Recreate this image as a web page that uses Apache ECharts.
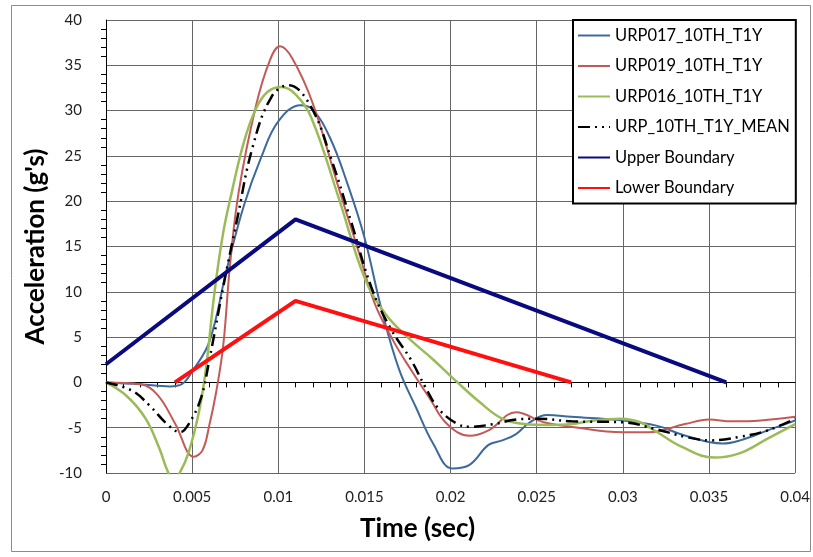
<!DOCTYPE html>
<html>
<head>
<meta charset="utf-8">
<script src="https://cdn.jsdelivr.net/npm/echarts@6/dist/echarts.min.js"></script>
<style>
  html, body { margin: 0; padding: 0; background: #fff; }
  #echarts { width: 813px; height: 557px; }
</style>
</head>
<body>
<div id="echarts"></div>
<script>
// 时间(秒)与加速度(g)
var t017 = [0, 0.002, 0.0037, 0.0044, 0.005, 0.006, 0.007, 0.008, 0.009, 0.010, 0.0113, 0.012, 0.013, 0.014, 0.015, 0.016, 0.017, 0.018, 0.019, 0.0201, 0.0211, 0.0222, 0.023, 0.0238, 0.0246, 0.0256, 0.027, 0.030, 0.032, 0.0335, 0.0358, 0.0368, 0.0384, 0.04];
var y017 = [0, -0.2, -0.45, -0.2, 1.2, 4.5, 12.4, 19.5, 24.8, 28.8, 30.6, 30.1, 27, 22, 16, 8, 1.5, -2.8, -6.8, -9.5, -9.1, -6.9, -6.4, -5.7, -4.4, -3.6, -3.8, -4.2, -4.8, -5.8, -6.75, -6.4, -5.3, -4.2];

var t019 = [0, 0.002, 0.003, 0.004, 0.0051, 0.0056, 0.006, 0.0064, 0.0068, 0.0072, 0.0077, 0.0087, 0.0095, 0.0101, 0.0108, 0.012, 0.0135, 0.0147, 0.0156, 0.0167, 0.0177, 0.0188, 0.0198, 0.0211, 0.0222, 0.0238, 0.0254, 0.027, 0.030, 0.0315, 0.0336, 0.035, 0.0363, 0.038, 0.04];
var y019 = [0, -0.2, -1.4, -4.5, -8.2, -7.5, -4.7, -1, 4, 13, 21, 30.5, 35.5, 37.1, 35.8, 30.8, 21.5, 14.2, 8.7, 4.5, 1.4, -1.8, -4.6, -5.9, -5.3, -3.3, -4.4, -4.9, -5.5, -5.5, -4.6, -4.1, -4.3, -4.2, -3.8];

var t016 = [0, 0.0012, 0.0023, 0.0031, 0.0036, 0.0039, 0.0043, 0.0048, 0.0054, 0.0058, 0.0063, 0.0068, 0.0073, 0.008, 0.0087, 0.0094, 0.0102, 0.011, 0.0119, 0.0135, 0.015, 0.0162, 0.0175, 0.019, 0.0204, 0.0217, 0.023, 0.0243, 0.0257, 0.027, 0.0283, 0.0299, 0.031, 0.032, 0.0334, 0.0353, 0.0368, 0.0384, 0.04];
var y016 = [0, -1.5, -4, -7.3, -9.9, -10.6, -9.9, -7.7, -3.2, 1.5, 10, 16.5, 21, 26.5, 30.2, 32.1, 32.6, 31.8, 29.3, 20.4, 11.6, 7.6, 5, 2.5, 0, -2.2, -4, -4.6, -4.7, -4.6, -4.2, -4, -4.4, -5.5, -7.1, -8.3, -7.8, -6.2, -4.6];

var tMean = [0, 0.0015, 0.0025, 0.0036, 0.0043, 0.0048, 0.0055, 0.006, 0.0068, 0.0076, 0.0085, 0.0096, 0.0106, 0.0119, 0.0131, 0.0142, 0.0154, 0.0165, 0.0177, 0.0185, 0.0193, 0.0204, 0.0211, 0.0225, 0.0238, 0.025, 0.027, 0.030, 0.0318, 0.0336, 0.0351, 0.0368, 0.0384, 0.04];
var yMean = [0, -0.9, -2.5, -4.7, -5.5, -4.6, -1.8, 2.5, 10.5, 17.9, 25.9, 31.5, 32.8, 30.4, 24.5, 17.9, 10.5, 6, 2.5, -0.4, -2.9, -4.6, -4.9, -4.6, -4.1, -4, -4.3, -4.4, -5.1, -6, -6.4, -6, -5.3, -4];

// 上下边界
var tUpper = [0, 0.011, 0.036];
var yUpper = [2, 18, 0];
var tLower = [0.004, 0.011, 0.027];
var yLower = [0, 9, 0];

var names = ['URP017_10TH_T1Y', 'URP019_10TH_T1Y', 'URP016_10TH_T1Y', 'URP_10TH_T1Y_MEAN', 'Upper Boundary', 'Lower Boundary'];

function pairs(t, y) {
  var out = [];
  for (var i = 0; i < t.length; i++) {
    out.push([t[i], y[i]]);
  }
  return out;
}

var font = 'Lato, "Open Sans", sans-serif';
var chart = echarts.init(document.getElementById('echarts'));

chart.setOption({
  animation: false,
  graphic: [{
    type: 'rect',
    shape: { x: 11.5, y: 5.5, width: 799, height: 546 },
    style: { fill: 'none', stroke: '#8c8c8c', lineWidth: 1 },
    z: -1
  }],
  grid: { left: 106, right: 14, top: 20, bottom: 84 },
  legend: {
    orient: 'vertical',
    left: 573,
    top: 20,
    padding: [7, 6, 7, 4],
    itemGap: 13.5,
    itemWidth: 32,
    itemHeight: 14,
    borderColor: '#000',
    borderWidth: 2,
    backgroundColor: '#fff',
    itemStyle: { opacity: 0 },
    data: names,
    textStyle: { fontFamily: font, fontSize: 16.5, color: '#000' }
  },
  xAxis: {
    type: 'value',
    min: 0,
    max: 0.04,
    interval: 0.005,
    name: 'Time (sec)',
    nameLocation: 'center',
    nameGap: 43,
    nameTextStyle: { fontFamily: font, fontSize: 26, fontWeight: 'bold', color: '#000', padding: [0, 66, 0, 0] },
    axisLine: { lineStyle: { color: '#000', width: 1 } },
    axisTick: { show: false },
    minorTick: { show: true, splitNumber: 5, length: 5, inside: true, lineStyle: { color: '#000' } },
    splitLine: { show: true, lineStyle: { color: '#666', width: 1 } },
    axisLabel: { fontFamily: font, fontSize: 15, color: '#222', margin: 17 }
  },
  yAxis: {
    type: 'value',
    min: -10,
    max: 40,
    interval: 5,
    name: 'Acceleration (g\'s)',
    nameLocation: 'center',
    nameGap: 46,
    nameTextStyle: { fontFamily: font, fontSize: 26, fontWeight: 'bold', color: '#000' },
    axisLine: { show: true, lineStyle: { color: '#000', width: 1 } },
    axisTick: { show: false },
    minorTick: { show: true, splitNumber: 5, length: 5, inside: true, lineStyle: { color: '#000' } },
    splitLine: { show: true, lineStyle: { color: '#666', width: 1 } },
    axisLabel: { fontFamily: font, fontSize: 15, color: '#222', margin: 24 }
  },
  series: [
    {
      name: names[0], type: 'line', symbol: 'none', smooth: 0.4,
      lineStyle: { color: '#3d6a9c', width: 2 }, itemStyle: { color: '#3d6a9c' },
      data: pairs(t017, y017)
    },
    {
      name: names[1], type: 'line', symbol: 'none', smooth: 0.4,
      lineStyle: { color: '#c45a58', width: 2 }, itemStyle: { color: '#c45a58' },
      data: pairs(t019, y019)
    },
    {
      name: names[2], type: 'line', symbol: 'none', smooth: 0.4,
      lineStyle: { color: '#9bbb59', width: 2.5 }, itemStyle: { color: '#9bbb59' },
      data: pairs(t016, y016)
    },
    {
      name: names[3], type: 'line', symbol: 'none', smooth: 0.4,
      lineStyle: { color: '#000', width: 2.5, type: [12, 5, 2, 5, 2, 5] }, itemStyle: { color: '#000' },
      data: pairs(tMean, yMean)
    },
    {
      name: names[4], type: 'line', symbol: 'none',
      lineStyle: { color: '#0a0a80', width: 4 }, itemStyle: { color: '#0a0a80' },
      data: pairs(tUpper, yUpper)
    },
    {
      name: names[5], type: 'line', symbol: 'none',
      lineStyle: { color: '#ff1010', width: 4 }, itemStyle: { color: '#ff1010' },
      data: pairs(tLower, yLower)
    }
  ]
});
</script>
</body>
</html>
